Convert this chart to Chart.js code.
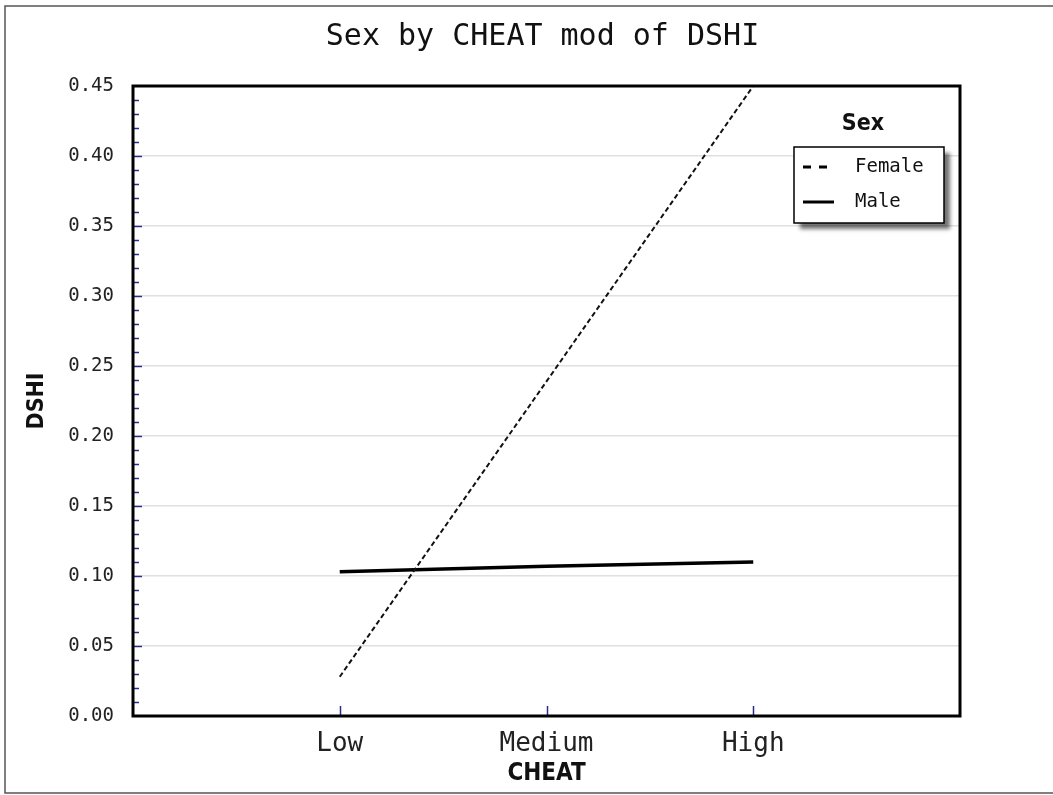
<!DOCTYPE html>
<html>
<head>
<meta charset="utf-8">
<title>Sex by CHEAT mod of DSHI</title>
<script src="https://cdn.jsdelivr.net/npm/chart.js@4.4.1/dist/chart.umd.min.js"></script>
<style>
  html, body { margin: 0; padding: 0; background: #fff; }
</style>
</head>
<body>
<canvas id="myChart" width="1053" height="795"></canvas>
<script>
'use strict';

// data
let categories = ['Low', 'Medium', 'High'];
let seriesNames = ['Female', 'Male'];
let femaleValues = [0.028, 0.239, 0.45];
let maleValues = [0.103, 0.107, 0.110];
let yMin = 0;
let yMax = 0.45;
let yStep = 0.05;
let yMinorStep = 0.01;

let chartTitle = 'Sex by CHEAT mod of DSHI';
let xTitle = 'CHEAT';
let yTitle = 'DSHI';
let legendTitle = 'Sex';

let mono = '"DejaVu Sans Mono", "Liberation Mono", monospace';
let condensed = '"DejaVu Sans Condensed", "DejaVu Sans", sans-serif';
let tickBlue = '#2b2b8c';

function toPoints(values) {
    return values.map(function (v, i) {
        return { x: i + 1, y: v };
    });
}

// title, frame, inner ticks, plot box and legend
let decorations = {
    id: 'decorations',
    afterDraw(chart) {
        let ctx = chart.ctx;
        let area = chart.chartArea;
        let xs = chart.scales.x;
        let ys = chart.scales.y;
        ctx.save();

        // outer frame (no right side visible)
        ctx.strokeStyle = '#555';
        ctx.lineWidth = 1.5;
        ctx.strokeRect(5, 6, 1200, 787);

        // chart title
        ctx.fillStyle = '#111';
        ctx.font = '30px ' + mono;
        ctx.textAlign = 'center';
        ctx.textBaseline = 'middle';
        ctx.fillText(chartTitle, (area.left + area.right) / 2 - 4, 37);

        // y minor and major ticks inside the plot
        ctx.strokeStyle = tickBlue;
        ctx.lineWidth = 1.5;
        let n = Math.round((yMax - yMin) / yMinorStep);
        for (let i = 1; i < n; i++) {
            let v = yMin + i * yMinorStep;
            let y = Math.round(ys.getPixelForValue(v)) + 0.5;
            let len = (i % 5 === 0) ? 9 : 6;
            ctx.beginPath();
            ctx.moveTo(area.left, y);
            ctx.lineTo(area.left + len, y);
            ctx.stroke();
        }

        // x ticks inside the plot
        for (let i = 0; i < categories.length; i++) {
            let x = Math.round(xs.getPixelForValue(i + 1)) + 0.5;
            ctx.beginPath();
            ctx.moveTo(x, area.bottom);
            ctx.lineTo(x, area.bottom - 10);
            ctx.stroke();
        }

        // plot box
        ctx.strokeStyle = '#000';
        ctx.lineWidth = 3;
        ctx.strokeRect(area.left, area.top, area.right - area.left, area.bottom - area.top);

        // legend
        let lx = 794, ly = 147, lw = 150, lh = 76;
        ctx.fillStyle = '#111';
        ctx.font = 'bold 23px ' + condensed;
        ctx.textAlign = 'center';
        ctx.fillText(legendTitle, lx + lw / 2 - 6, 124);

        ctx.save();
        ctx.shadowColor = 'rgba(0,0,0,0.55)';
        ctx.shadowBlur = 4;
        ctx.shadowOffsetX = 6;
        ctx.shadowOffsetY = 6;
        ctx.fillStyle = '#fff';
        ctx.fillRect(lx, ly, lw, lh);
        ctx.restore();
        ctx.strokeStyle = '#000';
        ctx.lineWidth = 1.5;
        ctx.strokeRect(lx, ly, lw, lh);

        let rows = [167, 202];
        let dashes = [[8, 8], []];
        ctx.font = '19px ' + mono;
        ctx.textAlign = 'left';
        for (let i = 0; i < seriesNames.length; i++) {
            ctx.beginPath();
            ctx.setLineDash(dashes[i]);
            ctx.lineWidth = 3;
            ctx.moveTo(803, rows[i]);
            ctx.lineTo(834, rows[i]);
            ctx.stroke();
            ctx.setLineDash([]);
            ctx.fillStyle = '#111';
            ctx.fillText(seriesNames[i], 855, rows[i]);
        }

        ctx.restore();
    }
};

let data = {
    datasets: [{
        label: seriesNames[0],
        data: toPoints(femaleValues),
        borderColor: '#111',
        borderWidth: 2,
        borderDash: [5, 3],
        pointRadius: 0,
        tension: 0,
        fill: false
    }, {
        label: seriesNames[1],
        data: toPoints(maleValues),
        borderColor: '#000',
        borderWidth: 3.5,
        pointRadius: 0,
        tension: 0,
        fill: false
    }]
};

let config = {
    type: 'line',
    data,
    options: {
        responsive: false,
        animation: false,
        devicePixelRatio: 1,
        layout: {
            padding: { top: 86, right: 93, left: 0, bottom: 0 }
        },
        plugins: {
            legend: { display: false },
            tooltip: { enabled: false },
            title: { display: false }
        },
        scales: {
            x: {
                type: 'linear',
                min: 0,
                max: categories.length + 1,
                afterBuildTicks(scale) {
                    scale.ticks = categories.map(function (c, i) {
                        return { value: i + 1 };
                    });
                },
                afterFit(scale) {
                    scale.height = 79;
                },
                grid: { display: false, drawTicks: false },
                border: { display: false },
                ticks: {
                    autoSkip: false,
                    maxRotation: 0,
                    padding: 13,
                    color: '#222',
                    font: { family: mono, size: 26 },
                    callback: function (value) {
                        return categories[value - 1];
                    }
                },
                title: {
                    display: true,
                    text: xTitle,
                    color: '#111',
                    padding: { top: 0, bottom: 7 },
                    font: { family: condensed, size: 24, weight: 'bold' }
                }
            },
            y: {
                min: yMin,
                max: yMax,
                afterFit(scale) {
                    scale.width = 133;
                },
                grid: { color: '#e0e0e0', lineWidth: 1.5, drawTicks: false },
                border: { display: false },
                ticks: {
                    stepSize: yStep,
                    padding: 19,
                    color: '#222',
                    font: { family: mono, size: 19 },
                    callback: function (value) {
                        return value.toFixed(2);
                    }
                },
                title: {
                    display: true,
                    text: yTitle,
                    color: '#111',
                    padding: { top: 23, bottom: 0 },
                    font: { family: condensed, size: 23, weight: 'bold' }
                }
            }
        }
    },
    plugins: [decorations]
};

let myChart = new Chart(document.getElementById('myChart'), config);
</script>
</body>
</html>
